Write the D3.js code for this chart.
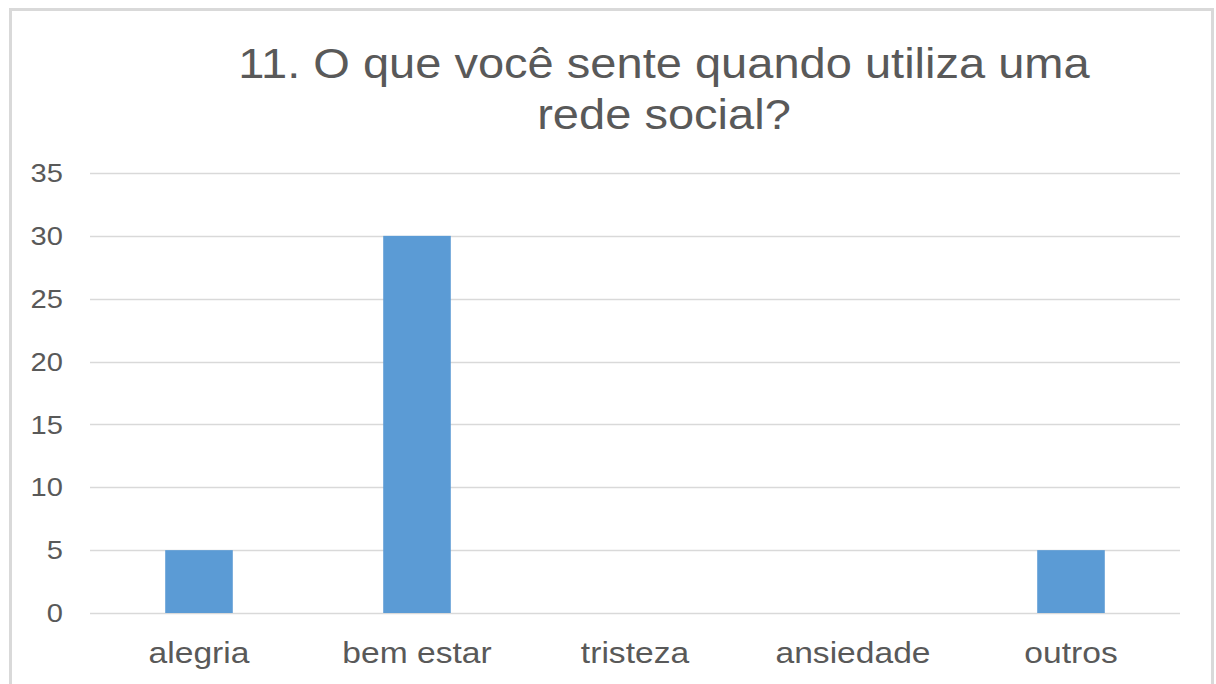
<!DOCTYPE html>
<html>
<head>
<meta charset="utf-8">
<script src="https://cdn.jsdelivr.net/npm/d3@7"></script>
<style>
  body { margin: 0; background: #fff; }
  svg { display: block; font-family: "Liberation Sans", Arial, sans-serif; }
</style>
</head>
<body>
<script>
const categories = ["alegria", "bem estar", "tristeza", "ansiedade", "outros"];
const values = [5, 30, 0, 0, 5];
const yTicks = [0, 5, 10, 15, 20, 25, 30, 35];
const titleLines = ["11. O que você sente quando utiliza uma", "rede social?"];

const width = 1216;
const height = 684;
const margin = { top: 173, right: 36, bottom: 71, left: 90 };
// text in the picture is a bit wider than it is tall
const stretch = 1.12;

const svg = d3.select("body")
    .append("svg")
    .attr("width", width)
    .attr("height", height);

// outer frame
svg.append("rect")
    .attr("x", 10.5)
    .attr("y", 9.5)
    .attr("width", 1202)
    .attr("height", 690)
    .attr("fill", "#fff")
    .attr("stroke", "#d9d9d9")
    .attr("stroke-width", 3);

const x = d3.scaleBand()
    .domain(categories)
    .range([margin.left, width - margin.right])
    .paddingInner(0.69)
    .paddingOuter(0.345);

const y = d3.scaleLinear()
    .domain([0, 35])
    .range([height - margin.bottom, margin.top]);

// gridlines
svg.append("g")
    .selectAll("line")
    .data(yTicks)
    .join("line")
    .attr("x1", margin.left)
    .attr("x2", width - margin.right)
    .attr("y1", d => Math.round(y(d)) + 0.5)
    .attr("y2", d => Math.round(y(d)) + 0.5)
    .attr("stroke", "#d9d9d9")
    .attr("stroke-width", 1.5);

// y labels
svg.append("g")
    .selectAll("text")
    .data(yTicks)
    .join("text")
    .attr("transform", d => `translate(63,${y(d)}) scale(${stretch},1)`)
    .attr("dy", "0.35em")
    .attr("text-anchor", "end")
    .attr("font-size", 26)
    .attr("fill", "#595959")
    .text(d => d);

// bars
svg.append("g")
    .selectAll("rect")
    .data(categories.map((c, i) => ({ c, v: values[i] })))
    .join("rect")
    .attr("x", d => x(d.c))
    .attr("y", d => y(d.v))
    .attr("width", x.bandwidth())
    .attr("height", d => y(0) - y(d.v))
    .attr("fill", "#5b9bd5");

// x labels
svg.append("g")
    .selectAll("text")
    .data(categories)
    .join("text")
    .attr("transform", d => `translate(${x(d) + x.bandwidth() / 2},663) scale(${stretch},1)`)
    .attr("text-anchor", "middle")
    .attr("font-size", 30)
    .attr("fill", "#595959")
    .text(d => d);

// title
svg.append("g")
    .selectAll("text")
    .data(titleLines)
    .join("text")
    .attr("transform", (d, i) => `translate(664,${78 + i * 51}) scale(${stretch},1)`)
    .attr("text-anchor", "middle")
    .attr("font-size", 42)
    .attr("fill", "#595959")
    .text(d => d);
</script>
</body>
</html>
